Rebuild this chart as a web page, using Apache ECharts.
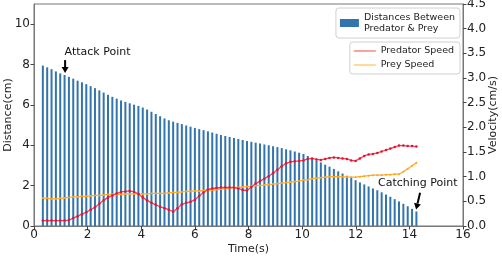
<!DOCTYPE html>
<html>
<head>
<meta charset="utf-8">
<script src="https://cdn.jsdelivr.net/npm/echarts@6/dist/echarts.min.js"></script>
<style>
  html, body { margin: 0; padding: 0; background: #fff; }
  #chart { width: 502px; height: 256px; }
</style>
</head>
<body>
<div id="chart"></div>
<script>
// frame timing of the sampled data (s)
const startTime = 0.33
const frameStep = 0.162

// distance between predator & prey per frame (cm)
const distances = [
  7.95, 7.86, 7.77, 7.66, 7.56, 7.48, 7.39, 7.30, 7.20, 7.12,
  7.03, 6.93, 6.83, 6.72, 6.61, 6.50, 6.40, 6.31, 6.22, 6.15,
  6.08, 6.01, 5.95, 5.87, 5.77, 5.66, 5.55, 5.44, 5.33, 5.24,
  5.17, 5.11, 5.05, 4.98, 4.92, 4.86, 4.80, 4.75, 4.69, 4.63,
  4.57, 4.51, 4.46, 4.41, 4.36, 4.31, 4.26, 4.21, 4.17, 4.13,
  4.09, 4.04, 4.00, 3.95, 3.91, 3.86, 3.80, 3.75, 3.69, 3.63,
  3.57, 3.47, 3.37, 3.25, 3.15, 3.04, 2.94, 2.83, 2.71, 2.60,
  2.49, 2.38, 2.27, 2.16, 2.06, 1.96, 1.86, 1.77, 1.67, 1.56,
  1.45, 1.33, 1.22, 1.10, 0.98, 0.85, 0.72
]

// predator speed per frame (cm/s)
const predatorSpeed = [
  0.11, 0.11, 0.11, 0.11, 0.11, 0.11, 0.12, 0.16, 0.20, 0.24,
  0.28, 0.33, 0.38, 0.45, 0.52, 0.58, 0.62, 0.66, 0.69, 0.70,
  0.71, 0.69, 0.65, 0.58, 0.52, 0.47, 0.43, 0.39, 0.36, 0.33,
  0.29, 0.36, 0.44, 0.47, 0.49, 0.53, 0.61, 0.68, 0.74, 0.76,
  0.77, 0.78, 0.78, 0.78, 0.78, 0.76, 0.73, 0.72, 0.79, 0.86,
  0.91, 0.96, 1.01, 1.07, 1.14, 1.21, 1.27, 1.30, 1.31, 1.32,
  1.33, 1.36, 1.37, 1.35, 1.34, 1.36, 1.38, 1.39, 1.38, 1.37,
  1.36, 1.33, 1.32, 1.37, 1.42, 1.45, 1.46, 1.48, 1.51, 1.54,
  1.57, 1.60, 1.63, 1.63, 1.62, 1.62, 1.61
]

// prey speed per frame (cm/s)
const preySpeed = [
  0.57, 0.56, 0.55, 0.55, 0.56, 0.57, 0.58, 0.59, 0.59, 0.60,
  0.60, 0.61, 0.62, 0.62, 0.63, 0.64, 0.64, 0.64, 0.64, 0.65,
  0.65, 0.65, 0.65, 0.65, 0.65, 0.66, 0.66, 0.66, 0.66, 0.67,
  0.68, 0.68, 0.69, 0.70, 0.70, 0.71, 0.71, 0.72, 0.73, 0.73,
  0.74, 0.75, 0.76, 0.77, 0.78, 0.78, 0.79, 0.80, 0.81, 0.82,
  0.82, 0.83, 0.84, 0.85, 0.86, 0.87, 0.88, 0.89, 0.90, 0.91,
  0.93, 0.94, 0.96, 0.97, 0.98, 0.99, 1.00, 1.00, 1.00, 1.00,
  0.99, 0.99, 0.99, 1.00, 1.01, 1.02, 1.03, 1.03, 1.03, 1.04,
  1.04, 1.05, 1.05, 1.10, 1.16, 1.22, 1.28
]

const xTicks = [0, 16, 2]
const distTicks = [0, 11, 2]
const velTicks = [0, 4.5, 0.5]

const FONT = 'DejaVu Sans'
const times = distances.map((d, i) => +(startTime + i * frameStep).toFixed(3))
const pair = arr => arr.map((v, i) => [times[i], v])

const chart = echarts.init(document.getElementById('chart'))
const axisStyle = {
  axisLine: { show: true, lineStyle: { color: '#777', width: 1 } },
  axisTick: { show: true, inside: false, length: 3.5, lineStyle: { color: '#444' } },
  axisLabel: { color: '#222', fontFamily: FONT, fontSize: 12 },
  splitLine: { show: false },
  nameMoveOverlap: false,
  nameTextStyle: { color: '#222', fontFamily: FONT, fontSize: 11 }
}

const option = {
  animation: false,
  textStyle: { fontFamily: FONT },
  grid: {
    left: 34, right: 39, top: 4, bottom: 30,
    containLabel: false, outerBoundsMode: 'none',
    show: true, borderColor: '#777', borderWidth: 1, backgroundColor: '#fff'
  },
  xAxis: {
    type: 'value', min: xTicks[0], max: xTicks[1], interval: xTicks[2],
    name: 'Time(s)', nameLocation: 'middle', nameGap: 18,
    ...axisStyle,
    axisLabel: { ...axisStyle.axisLabel, margin: 3 }
  },
  yAxis: [
    {
      type: 'value', min: distTicks[0], max: distTicks[1], interval: distTicks[2],
      name: 'Distance(cm)', nameLocation: 'middle', nameGap: 20, nameRotate: 90,
      ...axisStyle,
      axisLabel: { ...axisStyle.axisLabel, margin: 4, showMaxLabel: false }
    },
    {
      type: 'value', position: 'right', min: velTicks[0], max: velTicks[1], interval: velTicks[2],
      name: 'Velocity(cm/s)', nameLocation: 'middle', nameGap: 25, nameRotate: 90,
      ...axisStyle,
      axisLabel: {
        ...axisStyle.axisLabel, margin: 4,
        formatter: v => v.toFixed(1)
      }
    }
  ],
  legend: [
    {
      data: [{ name: 'Distances Between\nPredator & Prey', icon: 'rect' }],
      right: 42, top: 8,
      itemWidth: 19, itemHeight: 8, itemGap: 4,
      backgroundColor: '#fff', borderColor: '#d0d0d0', borderWidth: 1, borderRadius: 3,
      padding: [4, 5, 4, 4],
      textStyle: { color: '#222', fontFamily: FONT, fontSize: 9.5, lineHeight: 11 }
    },
    {
      data: [
        { name: 'Predator Speed', icon: 'rect', itemStyle: { color: '#f2887c' } },
        { name: 'Prey Speed', icon: 'rect', itemStyle: { color: '#ffcf78' } }
      ],
      orient: 'vertical', right: 42, top: 42,
      itemWidth: 22, itemHeight: 1.5, itemGap: 4,
      backgroundColor: '#fff', borderColor: '#d0d0d0', borderWidth: 1, borderRadius: 3,
      padding: [4, 6, 4, 4],
      textStyle: { color: '#222', fontFamily: FONT, fontSize: 9.5 }
    }
  ],
  series: [
    {
      name: 'Distances Between\nPredator & Prey',
      type: 'bar',
      yAxisIndex: 0,
      barWidth: 2,
      itemStyle: { color: '#3274ad' },
      data: pair(distances),
      z: 2
    },
    {
      name: 'Predator Speed',
      type: 'line',
      yAxisIndex: 1,
      data: pair(predatorSpeed),
      symbol: 'circle', symbolSize: 2.5, showSymbol: true,
      lineStyle: { color: '#f2445a', width: 1.3 },
      itemStyle: { color: '#e8102e' },
      z: 4
    },
    {
      name: 'Prey Speed',
      type: 'line',
      yAxisIndex: 1,
      data: pair(preySpeed),
      symbol: 'circle', symbolSize: 2, showSymbol: true,
      lineStyle: { color: '#ffae2a', width: 1.3 },
      itemStyle: { color: '#ffa21a' },
      z: 3
    }
  ]
}
chart.setOption(option)

// annotations placed in data coordinates
const px = (x, y) => chart.convertToPixel({ xAxisIndex: 0, yAxisIndex: 0 }, [x, y])
const arrow = (from, to) => {
  const a = px(from[0], from[1]), b = px(to[0], to[1])
  const ang = Math.atan2(b[1] - a[1], b[0] - a[0])
  const hl = 6, hw = 3.5
  const base = [b[0] - hl * Math.cos(ang), b[1] - hl * Math.sin(ang)]
  const nx = -Math.sin(ang) * hw, ny = Math.cos(ang) * hw
  return [
    { type: 'line', shape: { x1: a[0], y1: a[1], x2: base[0], y2: base[1] }, style: { stroke: '#000', lineWidth: 2 }, z: 10 },
    { type: 'polygon', shape: { points: [b, [base[0] + nx, base[1] + ny], [base[0] - nx, base[1] - ny]] }, style: { fill: '#000' }, z: 10 }
  ]
}
const label = (text, x, y, align) => {
  const p = px(x, y)
  return { type: 'text', x: p[0], y: p[1], z: 10, style: { text, fill: '#111', fontFamily: FONT, fontSize: 11, align, verticalAlign: 'middle' } }
}
chart.setOption({
  graphic: [
    label('Attack Point', 1.14, 8.6, 'left'),
    ...arrow([1.16, 8.22], [1.16, 7.58]),
    label('Catching Point', 12.83, 2.1, 'left'),
    ...arrow([14.4, 1.65], [14.25, 0.82])
  ]
})
</script>
</body>
</html>
